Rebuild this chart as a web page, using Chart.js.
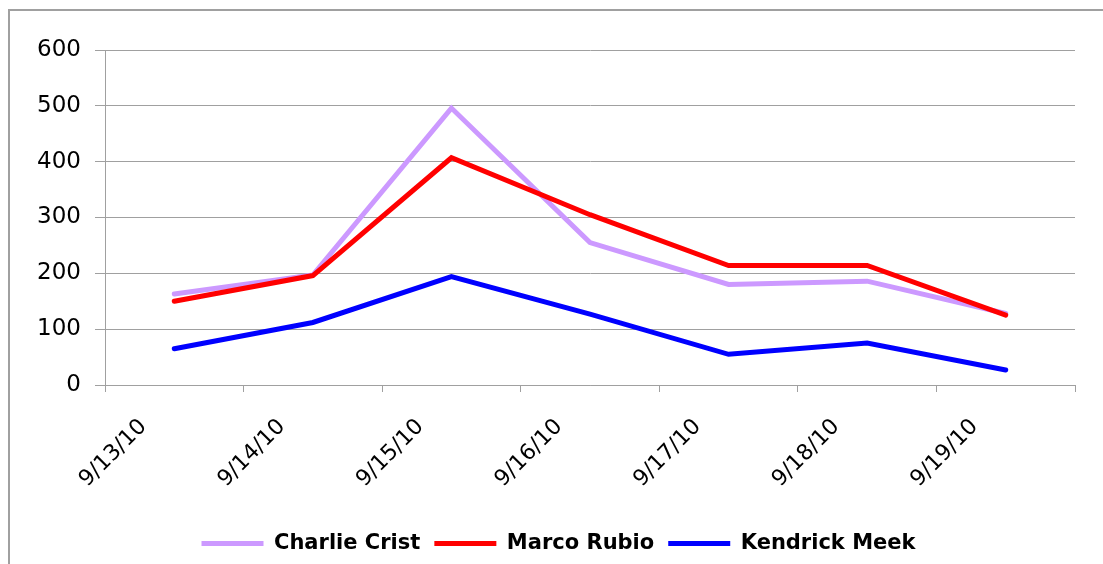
<!DOCTYPE html>
<html>
<head>
<meta charset="utf-8">
<script src="https://cdn.jsdelivr.net/npm/chart.js@4/dist/chart.umd.min.js"></script>
<style>
  body { margin: 0; background: #fff; overflow: hidden; }
</style>
</head>
<body>
<canvas id="myChart" width="1103" height="564"></canvas>
<script>
const dates = ["9/13/10", "9/14/10", "9/15/10", "9/16/10", "9/17/10", "9/18/10", "9/19/10"];
const charlieCrist = [163, 197, 496, 255, 180, 186, 128];
const marcoRubio = [150, 196, 407, 305, 214, 214, 125];
const kendrickMeek = [65, 112, 194, 127, 55, 75, 27];

const gridGray = "#a0a0a0";

const makeLine = (label, data, color, order) => {
  return {
    label: label,
    data: data,
    borderColor: color,
    backgroundColor: color,
    borderWidth: 5,
    borderCapStyle: "round",
    borderJoinStyle: "miter",
    pointRadius: 0,
    tension: 0,
    order: order,
  };
};

// nudge the legend a bit to the right, like the original
const legendShift = {
  id: "legendShift",
  afterLayout: (chart) => {
    chart.legend.left += 21;
    chart.legend.right += 21;
  },
};

// outer chart frame: only its left and top edges are inside the picture
const outerFrame = {
  id: "outerFrame",
  beforeDraw: (chart) => {
    const ctx = chart.ctx;
    ctx.save();
    ctx.strokeStyle = gridGray;
    ctx.lineWidth = 2;
    ctx.beginPath();
    ctx.moveTo(9, chart.height);
    ctx.lineTo(9, 10);
    ctx.lineTo(chart.width, 10);
    ctx.stroke();
    ctx.restore();
  },
};

const canvas = document.getElementById("myChart").getContext("2d");
let lineChart = new Chart(canvas, {
  type: "line",
  data: {
    labels: dates,
    datasets: [
      makeLine("Charlie Crist", charlieCrist, "#cc99ff", 1),
      makeLine("Marco Rubio", marcoRubio, "#ff0000", 0),
      makeLine("Kendrick Meek", kendrickMeek, "#0000ff", 0),
    ],
  },
  plugins: [legendShift, outerFrame],
  options: {
    responsive: false,
    maintainAspectRatio: false,
    animation: false,
    layout: { padding: { top: 50, right: 28, left: 0, bottom: 0 } },
    plugins: {
      tooltip: { enabled: false },
      legend: {
        position: "bottom",
        labels: {
          usePointStyle: true,
          pointStyle: "line",
          pointStyleWidth: 62,
          padding: 14,
          color: "#000",
          font: { family: "DejaVu Sans", size: 21, weight: "bold" },
          sort: (a, b) => a.datasetIndex - b.datasetIndex,
        },
      },
    },
    scales: {
      x: {
        offset: true,
        grid: {
          offset: true,
          drawOnChartArea: false,
          drawTicks: true,
          tickLength: 7,
          color: gridGray,
        },
        border: { color: gridGray, width: 1 },
        ticks: {
          minRotation: 45,
          maxRotation: 45,
          padding: 22,
          labelOffset: -31,
          color: "#000",
          font: { family: "DejaVu Sans", size: 22 },
        },
        afterFit: (s) => { s.height = 134; },
      },
      y: {
        min: 0,
        max: 600,
        grid: { color: gridGray, tickLength: 10 },
        border: { color: gridGray, width: 1 },
        ticks: {
          stepSize: 100,
          padding: 14,
          color: "#000",
          font: { family: "DejaVu Sans", size: 23 },
        },
        afterFit: (s) => { s.width = 105; },
      },
    },
  },
});
</script>
</body>
</html>
